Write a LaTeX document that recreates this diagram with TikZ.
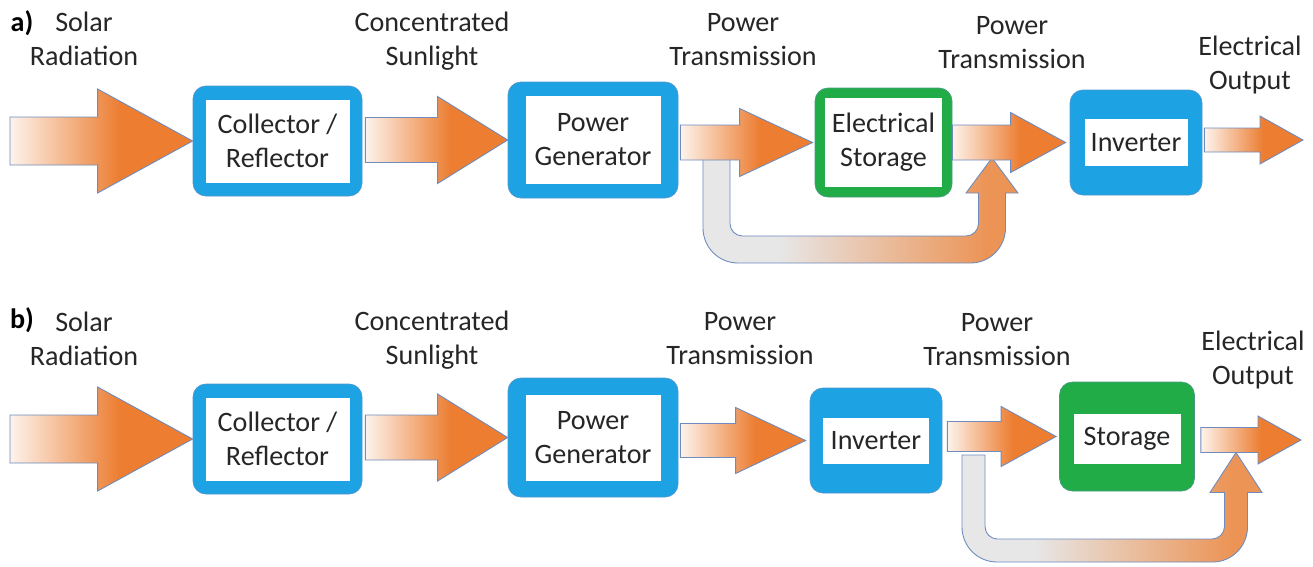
\documentclass[tikz,border=0pt]{standalone}
\usepackage{fontspec}
\setmainfont{Carlito}
\usetikzlibrary{positioning,calc}

\definecolor{boxblue}{RGB}{29,163,227}
\definecolor{boxgreen}{RGB}{34,172,72}
\definecolor{edge}{RGB}{110,140,190}
\definecolor{arrL}{RGB}{253,243,236}
\definecolor{arrR}{RGB}{236,125,49}
\definecolor{bypL}{RGB}{231,231,231}
\definecolor{bypR}{RGB}{236,148,86}
\definecolor{txt}{RGB}{38,38,38}

\pgfdeclarehorizontalshading{flowshade}{100bp}{color(0bp)=(arrL); color(25bp)=(arrL); color(55bp)=(arrR); color(100bp)=(arrR)}
\pgfdeclarehorizontalshading{bypassshade}{100bp}{color(0bp)=(bypL); color(37bp)=(bypL); color(70bp)=(bypR); color(100bp)=(bypR)}

% block arrow: [style]{start}{tip}{shaft half}{head half}{head length}
\newcommand{\flowarrow}[6][flow]{%
  \path[#1] let \p1=#2, \p2=#3 in
    ($(\x1,\y2)+(0,-#4)$) -- ($(\x2,\y2)+(-#6,-#4)$) -- ($(\x2,\y2)+(-#6,-#5)$)
    -- (\x2,\y2) -- ($(\x2,\y2)+(-#6,#5)$) -- ($(\x2,\y2)+(-#6,#4)$)
    -- ($(\x1,\y2)+(0,#4)$) -- cycle;}
% bypass arrow: {top-left}{tip}{depth}{width}{head half}{head length}
\newcommand{\bypass}[6]{%
  \path[byflow] let \p1=#1, \p2=#2 in
    (\x1,\y1) [rounded corners=7mm] -- ($(\x1,\y1)+(0,#3)$)
    -- ($(\x2,\y1)+(#4/2,#3)$) [sharp corners] -- ($(\x2,\y2)+(#4/2,#6)$)
    -- ($(\x2,\y2)+(#5,#6)$) -- (\x2,\y2) -- ($(\x2,\y2)+(-#5,#6)$)
    -- ($(\x2,\y2)+(-#4/2,#6)$) [rounded corners=2.5mm] -- ($(\x2,\y1)+(-#4/2,#3-#4)$)
    -- ($(\x1,\y1)+(#4,#3-#4)$) [sharp corners] -- ($(\x1,\y1)+(#4,0)$) -- cycle;}

\begin{document}
\begin{tikzpicture}[
  x=0.2mm, y=-0.2mm, font=\fontsize{16}{19.3}\selectfont,
  blk/.style={draw=edge!60!boxblue, thin, rounded corners=2.6mm, inner sep=0pt},
  blubox/.style={blk, fill=boxblue},
  grnbox/.style={blk, draw=edge!50!boxgreen, fill=boxgreen},
  win/.style={fill=white, inner sep=0pt, align=center, text=txt},
  lbl/.style={align=center, text=txt},
  tag/.style={font=\fontsize{16}{19.3}\selectfont\bfseries, text=black},
  flow/.style={draw=edge, line width=0.5pt, shade, shading=flowshade},
  byflow/.style={draw=edge, line width=0.5pt, shade, shading=bypassshade},
]
\useasboundingbox (0,0) rectangle (1313,566);

% ---- a) storage before the inverter
\node[blubox, minimum width=33.8mm, minimum height=22mm] (col-a) at (277.5,141) {};
\node[win, minimum width=28.8mm, minimum height=16.6mm] (col-a-in) at (col-a) {Collector /\\Reflector};
\node[blubox, minimum width=34mm, minimum height=23.2mm] (gen-a) at (593,140) {};
\node[win, minimum width=27mm, minimum height=17.6mm] (gen-a-in) at (gen-a) {Power\\Generator};
\node[grnbox, minimum width=27.4mm, minimum height=21.8mm] (sto-a) at (883.5,142.5) {};
\node[win, minimum width=23.4mm, minimum height=17.8mm] (sto-a-in) at (sto-a) {Electrical\\Storage};
\node[blubox, minimum width=26.4mm, minimum height=21mm] (inv-a) at (1136,142.5) {};
\node[win, minimum width=20.6mm, minimum height=9.4mm] (inv-a-in) at (inv-a) {Inverter};

\coordinate (src-a) at (10,140);
\coordinate (out-a) at (1303,140);
\coordinate (tap-a) at (703,158);
\coordinate (join-a) at (992,158);

\bypass{(tap-a)}{(join-a)}{105}{27}{26}{35}
\flowarrow{(src-a)}{(col-a.west)}{24}{52}{95}
\flowarrow{($(col-a.east)+(3,0)$)}{(gen-a.west)}{22.5}{43.5}{70}
\flowarrow{($(gen-a.east)+(2,0)$)}{($(sto-a.west)+(-2,0)$)}{17.5}{34}{73}
\flowarrow{(sto-a.east)}{($(inv-a.west)+(-4,0)$)}{17.5}{30}{55}
\flowarrow{($(inv-a.east)+(2,0)$)}{(out-a)}{12}{24}{43}

\node[tag] (tag-a) at (22,23) {a)};
\node[lbl] (sun-a) at (84,39) {Solar\\Radiation};
\node[lbl] (conc-a) at (432,41) {Concentrated\\Sunlight};
\node[lbl] (pt1-a) at (743,40) {Power\\Transmission};
\node[lbl] (pt2-a) at (1012,43) {Power\\Transmission};
\node[lbl] (eo-a) at (1250,65) {Electrical\\Output};

% ---- b) storage after the inverter
\node[blubox, minimum width=33.8mm, minimum height=22mm] (col-b) at (277.5,439) {};
\node[win, minimum width=28.8mm, minimum height=16.6mm] (col-b-in) at (col-b) {Collector /\\Reflector};
\node[blubox, minimum width=34mm, minimum height=23.8mm] (gen-b) at (593,437.5) {};
\node[win, minimum width=27mm, minimum height=17.2mm] (gen-b-in) at (gen-b) {Power\\Generator};
\node[blubox, minimum width=26.4mm, minimum height=21mm] (inv-b) at (876,440.5) {};
\node[win, minimum width=21.2mm, minimum height=9.2mm] (inv-b-in) at (inv-b) {Inverter};
\node[grnbox, minimum width=27mm, minimum height=21.8mm] (sto-b) at (1127,436.5) {};
\node[win, minimum width=21.4mm, minimum height=10mm] (sto-b-in) at ($(sto-b)+(0,2.5)$) {Storage};

\coordinate (src-b) at (10,438);
\coordinate (out-b) at (1301,440);
\coordinate (tap-b) at (962,455);
\coordinate (join-b) at (1236,452.5);

\bypass{(tap-b)}{(join-b)}{107}{23}{26}{40}
\flowarrow{(src-b)}{(col-b.west)}{24}{52}{95}
\flowarrow{($(col-b.east)+(3,0)$)}{(gen-b.west)}{22.5}{43.5}{70}
\flowarrow{($(gen-b.east)+(2,0)$)}{($(inv-b.west)+(-4,0)$)}{17}{33}{70}
\flowarrow{($(inv-b.east)+(5,0)$)}{($(sto-b.west)+(-3,0)$)}{15}{30}{55}
\flowarrow{($(sto-b.east)+(6,0)$)}{(out-b)}{12.5}{24}{43}

\node[tag] (tag-b) at (22,320) {b)};
\node[lbl] (sun-b) at (84,338.5) {Solar\\Radiation};
\node[lbl] (conc-b) at (432,340) {Concentrated\\Sunlight};
\node[lbl] (pt1-b) at (740,338.5) {Power\\Transmission};
\node[lbl] (pt2-b) at (997,340) {Power\\Transmission};
\node[lbl] (eo-b) at (1253,360) {Electrical\\Output};
\end{tikzpicture}
\end{document}
